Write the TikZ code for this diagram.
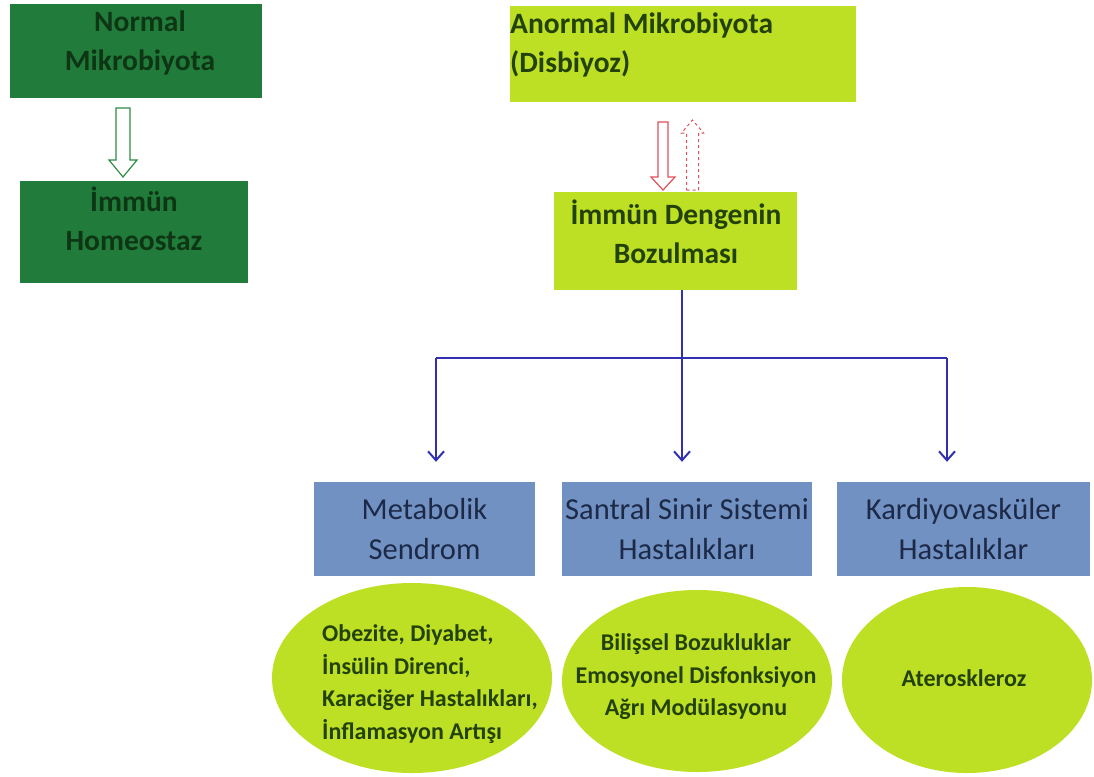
\documentclass[tikz,border=0pt]{standalone}
\usepackage{fontspec}
\setmainfont{Carlito}
\usetikzlibrary{arrows.meta,shapes.geometric,calc}
\definecolor{dgreen}{HTML}{217C3B}
\definecolor{dgtext}{HTML}{0E3614}
\definecolor{lime}{HTML}{BEE024}
\definecolor{limetext}{HTML}{23420A}
\definecolor{bluebox}{HTML}{7191C3}
\definecolor{bluetext}{HTML}{1C2A48}
\definecolor{blueline}{HTML}{3030B0}
\definecolor{redarr}{HTML}{E0505A}
\definecolor{garr}{HTML}{2E8B45}
\tikzset{
  gbox/.style={rectangle, fill=dgreen, inner sep=0pt},
  gtext/.style={text=dgtext, inner sep=0pt, align=center, font=\bfseries\fontsize{29.5}{39}\selectfont},
  lbox/.style={rectangle, fill=lime, inner sep=0pt},
  ltext/.style={text=limetext, inner sep=0pt, font=\bfseries\fontsize{29.5}{39}\selectfont},
  bbox/.style={rectangle, fill=bluebox, text=bluetext, inner sep=0pt, align=center, font=\fontsize{30.5}{40}\selectfont},
  ell/.style={ellipse, fill=lime, inner sep=0pt},
  etext/.style={text=limetext, inner sep=0pt, font=\bfseries\fontsize{24}{32.5}\selectfont},
  bline/.style={draw=blueline, line width=2pt},
  barr/.style={bline, -{Straight Barb[length=9pt,width=16pt,line width=2pt]}},
  hollow/.style={fill=white, line width=1.2pt, line join=miter}
}
\begin{document}
\begin{tikzpicture}[x=1pt,y=-1pt]
\useasboundingbox (0,0) rectangle (1094,776);
% left column
\node[gbox, minimum width=252pt, minimum height=94pt] (normal) at (136,51) {};
\node[gtext] (normaltxt) at (140,43) {Normal\\Mikrobiyota};
\node[gbox, minimum width=228pt, minimum height=102pt] (homeo) at (134,232) {};
\node[gtext] (homeotxt) at (134,219) {İmmün\\Homeostaz};
% green hollow arrow
\coordinate (gt) at (123,108);
\coordinate (gb) at (123,177);
\draw[hollow, draw=garr] ($(gt)+(-7,0)$) -- ($(gt)+(7,0)$) -- ($(gb)+(7,-17)$) -- ($(gb)+(14,-17)$) -- (gb) -- ($(gb)+(-14,-17)$) -- ($(gb)+(-7,-17)$) -- cycle;
% right top
\node[lbox, minimum width=346pt, minimum height=96pt] (anormal) at (683,54) {};
\node[ltext, anchor=west, align=left] (anormaltxt) at (510,45) {Anormal Mikrobiyota\\(Disbiyoz)};
\node[lbox, minimum width=243pt, minimum height=98pt] (bozul) at (675.5,241) {};
\node[ltext, align=center] (bozultxt) at (676,232) {İmmün Dengenin\\Bozulması};
% red hollow arrow down
\coordinate (rt) at (663,122);
\coordinate (rb) at (663,190);
\draw[hollow, draw=redarr] ($(rt)+(-5,0)$) -- ($(rt)+(5,0)$) -- ($(rb)+(5,-13)$) -- ($(rb)+(12,-13)$) -- (rb) -- ($(rb)+(-12,-13)$) -- ($(rb)+(-5,-13)$) -- cycle;
% red dashed arrow up
\coordinate (ut) at (692.5,120);
\coordinate (ub) at (692.5,190);
\draw[hollow, draw=redarr, line width=1pt, dash pattern=on 3pt off 3pt] ($(ub)+(-6,0)$) -- ($(ub)+(6,0)$) -- ($(ut)+(6,13)$) -- ($(ut)+(11,13)$) -- (ut) -- ($(ut)+(-11,13)$) -- ($(ut)+(-6,13)$) -- cycle;
% blue boxes
\node[bbox, minimum width=221pt, minimum height=94pt] (meta) at (424.5,529) {Metabolik\\Sendrom};
\node[bbox, minimum width=250pt, minimum height=94pt] (sss) at (687,529) {Santral Sinir Sistemi\\Hastalıkları};
\node[bbox, minimum width=253pt, minimum height=94pt] (kardio) at (963.5,529) {Kardiyovasküler\\Hastalıklar};
% connectors
\coordinate (j) at (682,358);
\coordinate (jl) at (436,358);
\coordinate (jr) at (947,358);
\draw[bline] (bozul.south -| j) -- (j);
\draw[bline] (jl) -- (jr);
\draw[barr, shorten >=20pt] (jl) -- (jl |- meta.north);
\draw[barr, shorten >=20pt] (j) -- (j |- sss.north);
\draw[barr, shorten >=20pt] (jr) -- (jr |- kardio.north);
% ellipses
\node[ell, minimum width=280pt, minimum height=190pt] (e1) at (412,678) {};
\node[etext, align=left, anchor=west] (e1txt) at (322,684) {Obezite, Diyabet,\\İnsülin Direnci,\\Karaciğer Hastalıkları,\\İnflamasyon Artışı};
\node[ell, minimum width=270pt, minimum height=182pt] (e2) at (697,681) {};
\node[etext, align=center] (e2txt) at (696,677) {Bilişsel Bozukluklar\\Emosyonel Disfonksiyon\\Ağrı Modülasyonu};
\node[ell, minimum width=250pt, minimum height=186pt] (e3) at (967,680) {};
\node[etext] (e3txt) at (964,678) {Ateroskleroz};
\end{tikzpicture}
\end{document}
